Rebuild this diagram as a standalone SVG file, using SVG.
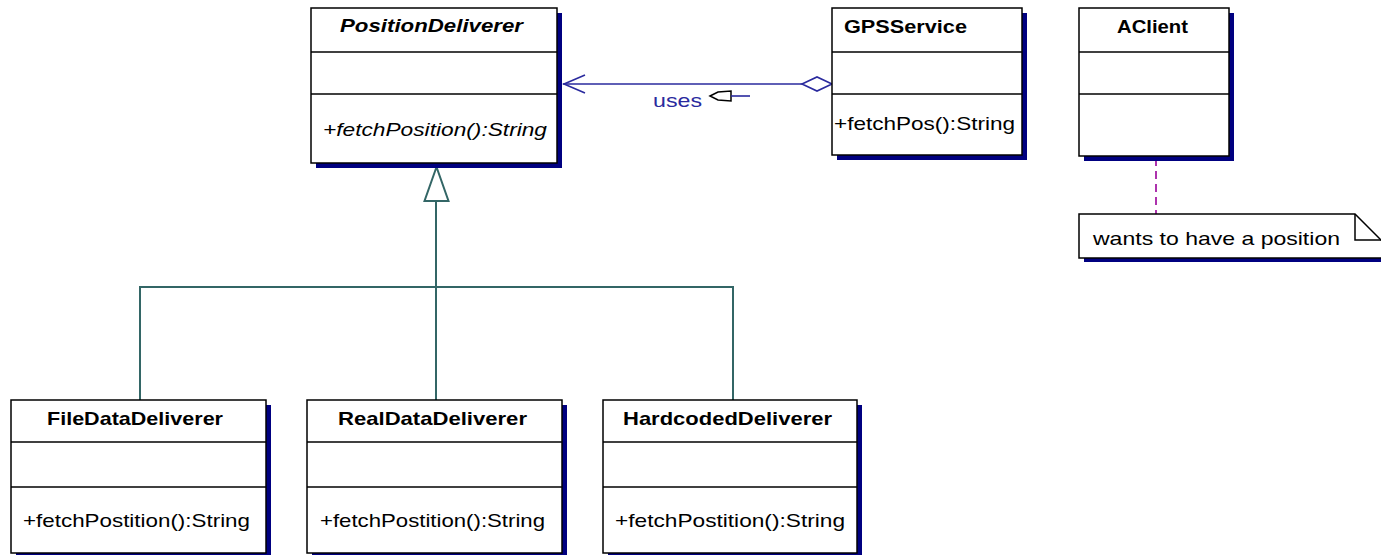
<svg xmlns="http://www.w3.org/2000/svg" width="1381" height="555" viewBox="0 0 1381 555">
<style>
.box{fill:#fff;stroke:#000;stroke-width:1.5}
.shadow{fill:#000080}
.div{stroke:#000;stroke-width:1.5}
.title{font-family:"Liberation Sans",Arial,sans-serif;font-size:19px;font-weight:bold;fill:#000}
.meth{font-family:"Liberation Sans",Arial,sans-serif;font-size:19px;fill:#000}
.gen{fill:none;stroke:#336666;stroke-width:2}
.assoc{fill:none;stroke:#2A2A9E;stroke-width:1.6}
</style>
<rect width="1381" height="555" fill="#fff"/>
<g id="connectors">
  <polyline class="gen" points="140,400 140,287 733,287 733,400"/>
  <line class="gen" x1="436" y1="201" x2="436" y2="400"/>
  <polygon points="436.5,167 424.5,201 448.5,201" fill="#fff" stroke="#336666" stroke-width="2"/>
  <line class="assoc" x1="563" y1="84" x2="802" y2="84"/>
  <polyline class="assoc" points="585,75 564,84 585,93"/>
  <polygon points="802,84 817,77 832,84 817,91" fill="#fff" stroke="#2A2A9E" stroke-width="1.6"/>
  <text x="653" y="107" font-family="Liberation Sans,Arial,sans-serif" font-size="19" fill="#2A2A9E" textLength="49" lengthAdjust="spacingAndGlyphs">uses</text>
  <polygon points="710,96 718,92 731,91 731,101 718,100" fill="#fff" stroke="#000" stroke-width="1.5"/>
  <line x1="731" y1="96" x2="750" y2="96" stroke="#2A2A9E" stroke-width="1.6"/>
  <line x1="1156" y1="158" x2="1156" y2="214" stroke="#990099" stroke-width="1.6" stroke-dasharray="8,5"/>
</g>
<g id="PositionDeliverer">
  <rect class="shadow" x="316" y="13" width="246" height="155"/>
  <rect class="box" x="311" y="8" width="246" height="155"/>
  <line class="div" x1="311" y1="52" x2="557" y2="52"/>
  <line class="div" x1="311" y1="94" x2="557" y2="94"/>
  <text class="title" x="340" y="32" font-style="italic" textLength="183" lengthAdjust="spacingAndGlyphs">PositionDeliverer</text>
  <text class="meth" x="323" y="136" font-style="italic" textLength="224" lengthAdjust="spacingAndGlyphs">+fetchPosition():String</text>
</g>
<g id="GPSService">
  <rect class="shadow" x="837" y="13" width="190" height="147"/>
  <rect class="box" x="832" y="8" width="190" height="147"/>
  <line class="div" x1="832" y1="52" x2="1022" y2="52"/>
  <line class="div" x1="832" y1="94" x2="1022" y2="94"/>
  <text class="title" x="844" y="33" textLength="123" lengthAdjust="spacingAndGlyphs">GPSService</text>
  <text class="meth" x="834" y="130" textLength="181" lengthAdjust="spacingAndGlyphs">+fetchPos():String</text>
</g>
<g id="AClient">
  <rect class="shadow" x="1084" y="13" width="150" height="148"/>
  <rect class="box" x="1079" y="8" width="150" height="148"/>
  <line class="div" x1="1079" y1="52" x2="1229" y2="52"/>
  <line class="div" x1="1079" y1="94" x2="1229" y2="94"/>
  <text class="title" x="1117" y="33" textLength="71" lengthAdjust="spacingAndGlyphs">AClient</text>
</g>
<g id="note">
  <rect class="shadow" x="1084" y="258" width="300" height="4"/>
  <polygon points="1079,214 1355,214 1382,241 1382,258 1079,258" fill="#fff" stroke="#000" stroke-width="1.5"/>
  <polyline points="1355,214 1355,240 1382,240" fill="none" stroke="#000" stroke-width="1.5"/>
  <text class="meth" x="1093" y="245" textLength="247" lengthAdjust="spacingAndGlyphs">wants to have a position</text>
</g>
<g id="FileDataDeliverer">
  <rect class="shadow" x="16" y="405" width="255" height="153"/>
  <rect class="box" x="11" y="400" width="255" height="153"/>
  <line class="div" x1="11" y1="442" x2="266" y2="442"/>
  <line class="div" x1="11" y1="487" x2="266" y2="487"/>
  <text class="title" x="47" y="425" textLength="176" lengthAdjust="spacingAndGlyphs">FileDataDeliverer</text>
  <text class="meth" x="23" y="527" textLength="227" lengthAdjust="spacingAndGlyphs">+fetchPostition():String</text>
</g>
<g id="RealDataDeliverer">
  <rect class="shadow" x="312" y="405" width="255" height="153"/>
  <rect class="box" x="307" y="400" width="255" height="153"/>
  <line class="div" x1="307" y1="442" x2="562" y2="442"/>
  <line class="div" x1="307" y1="487" x2="562" y2="487"/>
  <text class="title" x="338" y="425" textLength="189" lengthAdjust="spacingAndGlyphs">RealDataDeliverer</text>
  <text class="meth" x="320" y="527" textLength="225" lengthAdjust="spacingAndGlyphs">+fetchPostition():String</text>
</g>
<g id="HardcodedDeliverer">
  <rect class="shadow" x="608" y="405" width="254" height="153"/>
  <rect class="box" x="603" y="400" width="254" height="153"/>
  <line class="div" x1="603" y1="442" x2="857" y2="442"/>
  <line class="div" x1="603" y1="487" x2="857" y2="487"/>
  <text class="title" x="623" y="425" textLength="209" lengthAdjust="spacingAndGlyphs">HardcodedDeliverer</text>
  <text class="meth" x="615" y="527" textLength="230" lengthAdjust="spacingAndGlyphs">+fetchPostition():String</text>
</g>
</svg>
